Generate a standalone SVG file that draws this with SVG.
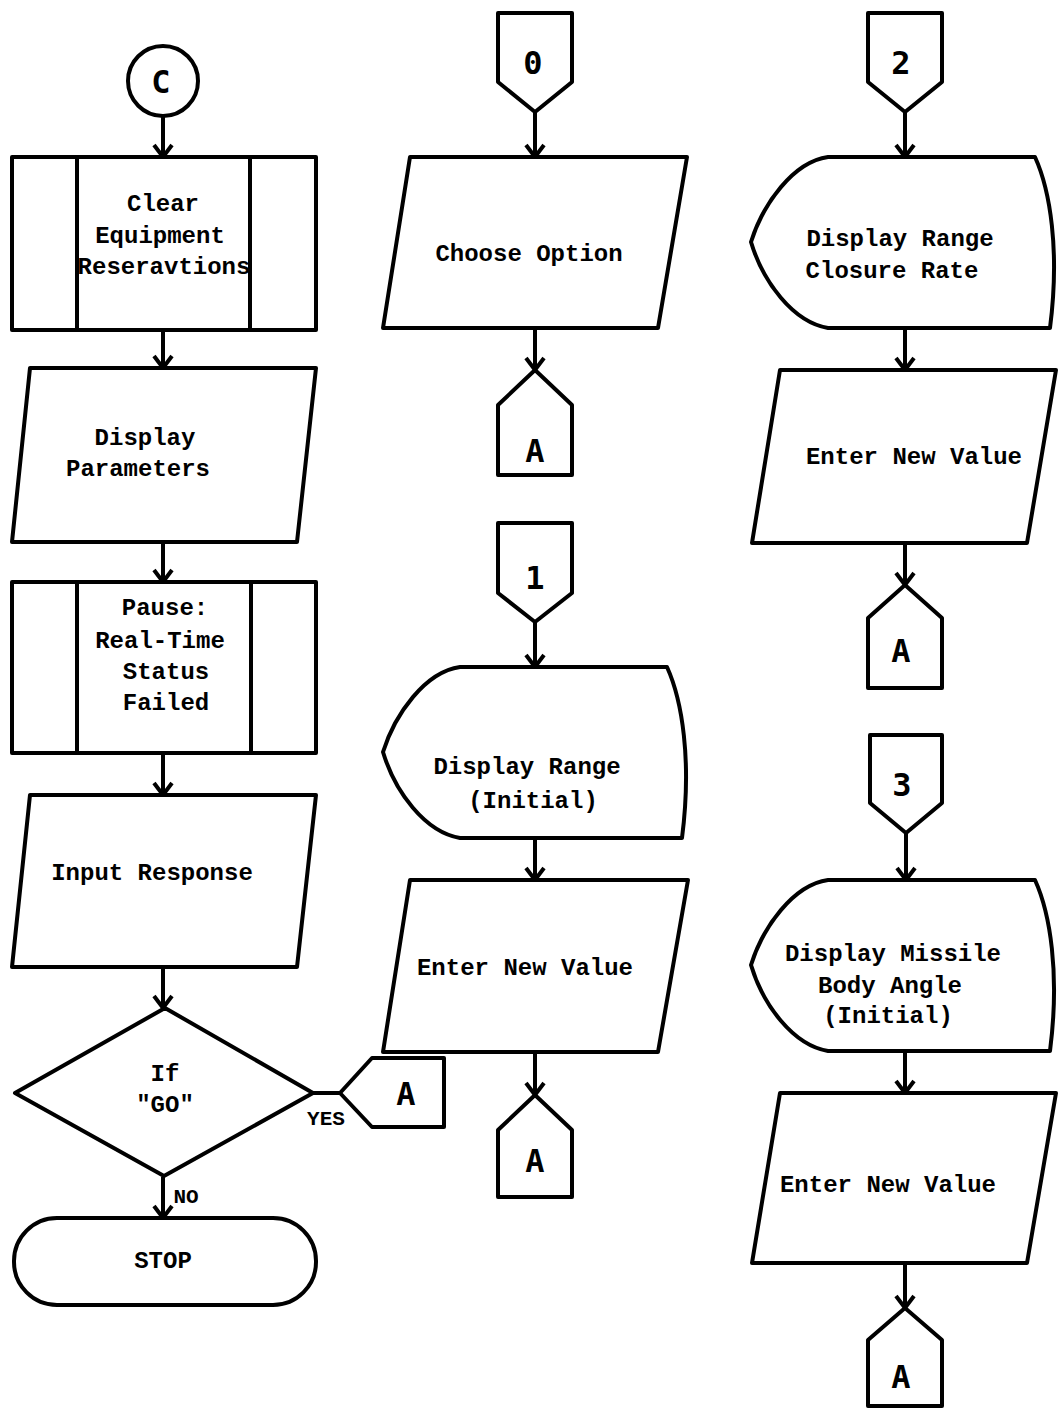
<svg xmlns="http://www.w3.org/2000/svg" width="1060" height="1410" viewBox="0 0 1060 1410">
<style>
.s{fill:#fff;stroke:#000;stroke-width:4;stroke-linejoin:round}
.l{fill:none;stroke:#000;stroke-width:4}
.t{font-family:"Liberation Mono","DejaVu Sans Mono",monospace;font-weight:bold;font-size:24px;fill:#000;text-anchor:middle}
.sm{font-family:"Liberation Mono","DejaVu Sans Mono",monospace;font-weight:bold;font-size:21px;fill:#000;text-anchor:middle}
.c{font-family:"DejaVu Sans Mono","Liberation Mono",monospace;font-weight:bold;font-size:32px;fill:#000;text-anchor:middle}
</style>
<defs>
<marker id="ah" markerUnits="userSpaceOnUse" viewBox="-16 -12 20 24" markerWidth="20" markerHeight="24" refX="0" refY="0" orient="auto" overflow="visible">
<path d="M -12 -9 L 0 0 L -12 9" fill="none" stroke="#000" stroke-width="4"/>
</marker>
<path id="disp" d="M 460 667 L 667 667 C 682 700 692 760 682 838 L 460 838 C 425 832 395 792 383 752 C 395 714 425 672 460 667 Z"/>
</defs>

<g id="connectors">
<line class="l" x1="163" y1="116" x2="163" y2="157" marker-end="url(#ah)"/>
<line class="l" x1="163" y1="330" x2="163" y2="368" marker-end="url(#ah)"/>
<line class="l" x1="163" y1="542" x2="163" y2="582" marker-end="url(#ah)"/>
<line class="l" x1="163" y1="753" x2="163" y2="795" marker-end="url(#ah)"/>
<line class="l" x1="163" y1="967" x2="163" y2="1008" marker-end="url(#ah)"/>
<line class="l" x1="163" y1="1177" x2="163" y2="1218" marker-end="url(#ah)"/>
<line class="l" x1="313" y1="1093" x2="340" y2="1093"/>
<line class="l" x1="535" y1="112" x2="535" y2="157" marker-end="url(#ah)"/>
<line class="l" x1="535" y1="328" x2="535" y2="370" marker-end="url(#ah)"/>
<line class="l" x1="535" y1="622" x2="535" y2="667" marker-end="url(#ah)"/>
<line class="l" x1="535" y1="838" x2="535" y2="880" marker-end="url(#ah)"/>
<line class="l" x1="535" y1="1052" x2="535" y2="1095" marker-end="url(#ah)"/>
<line class="l" x1="905" y1="112" x2="905" y2="157" marker-end="url(#ah)"/>
<line class="l" x1="905" y1="328" x2="905" y2="370" marker-end="url(#ah)"/>
<line class="l" x1="905" y1="543" x2="905" y2="585" marker-end="url(#ah)"/>
<line class="l" x1="906" y1="833" x2="906" y2="880" marker-end="url(#ah)"/>
<line class="l" x1="905" y1="1052" x2="905" y2="1093" marker-end="url(#ah)"/>
<line class="l" x1="905" y1="1263" x2="905" y2="1308" marker-end="url(#ah)"/>
<text class="sm" x="326" y="1125">YES</text>
<text class="sm" x="186" y="1203">NO</text>
</g>

<g id="start-c">
<circle class="s" cx="163" cy="81" r="35"/>
<text class="c" x="161" y="93">C</text>
</g>

<g id="clear-equipment">
<rect class="s" x="12" y="157" width="304" height="173"/>
<line class="l" x1="77" y1="157" x2="77" y2="330"/>
<line class="l" x1="250" y1="157" x2="250" y2="330"/>
<text class="t" x="163" y="211">Clear</text>
<text class="t" x="160" y="243">Equipment</text>
<text class="t" x="164" y="274">Reseravtions</text>
</g>

<g id="display-parameters">
<polygon class="s" points="30,368 316,368 297,542 12,542"/>
<text class="t" x="145" y="445">Display</text>
<text class="t" x="138" y="476">Parameters</text>
</g>

<g id="pause">
<rect class="s" x="12" y="582" width="304" height="171"/>
<line class="l" x1="77" y1="582" x2="77" y2="753"/>
<line class="l" x1="251" y1="582" x2="251" y2="753"/>
<text class="t" x="165" y="615">Pause:</text>
<text class="t" x="160" y="648">Real-Time</text>
<text class="t" x="166" y="679">Status</text>
<text class="t" x="166" y="710">Failed</text>
</g>

<g id="input-response">
<polygon class="s" points="30,795 316,795 297,967 12,967"/>
<text class="t" x="152" y="880">Input Response</text>
</g>

<g id="if-go">
<polygon class="s" points="165,1008 313,1093 164,1176 15,1093"/>
<text class="t" x="165" y="1081">If</text>
<text class="t" x="165" y="1112">"GO"</text>
</g>

<g id="stop">
<rect class="s" x="14" y="1218" width="302" height="87" rx="43" ry="43"/>
<text class="t" x="163" y="1268">STOP</text>
</g>

<g id="goto-a-yes">
<polygon class="s" points="340,1093 372,1058 444,1058 444,1127 372,1127"/>
<text class="c" x="406" y="1105">A</text>
</g>

<g id="entry-0">
<polygon class="s" points="498,13 572,13 572,82 535,112 498,82"/>
<text class="c" x="533" y="74">0</text>
</g>

<g id="choose-option">
<polygon class="s" points="410,157 687,157 658,328 383,328"/>
<text class="t" x="529" y="261">Choose Option</text>
</g>

<g id="goto-a-0">
<polygon class="s" points="535,370 572,405 572,475 498,475 498,405"/>
<text class="c" x="535" y="462">A</text>
</g>

<g id="entry-1">
<polygon class="s" points="498,523 572,523 572,593 535,622 498,593"/>
<text class="c" x="535" y="589">1</text>
</g>

<g id="display-range-initial">
<use href="#disp" class="s"/>
<text class="t" x="527" y="774">Display Range</text>
<text class="t" x="533" y="808">(Initial)</text>
</g>

<g id="enter-value-1">
<polygon class="s" points="410,880 688,880 658,1052 383,1052"/>
<text class="t" x="525" y="975">Enter New Value</text>
</g>

<g id="goto-a-1">
<polygon class="s" points="535,1095 572,1130 572,1197 498,1197 498,1130"/>
<text class="c" x="535" y="1172">A</text>
</g>

<g id="entry-2">
<polygon class="s" points="868,13 942,13 942,82 905,112 868,82"/>
<text class="c" x="901" y="74">2</text>
</g>

<g id="display-closure-rate">
<use href="#disp" class="s" transform="translate(368,-510)"/>
<text class="t" x="900" y="246">Display Range</text>
<text class="t" x="892" y="278">Closure Rate</text>
</g>

<g id="enter-value-2">
<polygon class="s" points="780,370 1056,370 1027,543 752,543"/>
<text class="t" x="914" y="464">Enter New Value</text>
</g>

<g id="goto-a-2">
<polygon class="s" points="905,585 942,618 942,688 868,688 868,618"/>
<text class="c" x="901" y="662">A</text>
</g>

<g id="entry-3">
<polygon class="s" points="870,735 942,735 942,803 906,833 870,803"/>
<text class="c" x="902" y="796">3</text>
</g>

<g id="display-missile-angle">
<use href="#disp" class="s" transform="translate(368,213)"/>
<text class="t" x="893" y="961">Display Missile</text>
<text class="t" x="890" y="993">Body Angle</text>
<text class="t" x="888" y="1023">(Initial)</text>
</g>

<g id="enter-value-3">
<polygon class="s" points="780,1093 1056,1093 1027,1263 752,1263"/>
<text class="t" x="888" y="1192">Enter New Value</text>
</g>

<g id="goto-a-3">
<polygon class="s" points="905,1308 942,1340 942,1406 868,1406 868,1340"/>
<text class="c" x="901" y="1388">A</text>
</g>
</svg>
